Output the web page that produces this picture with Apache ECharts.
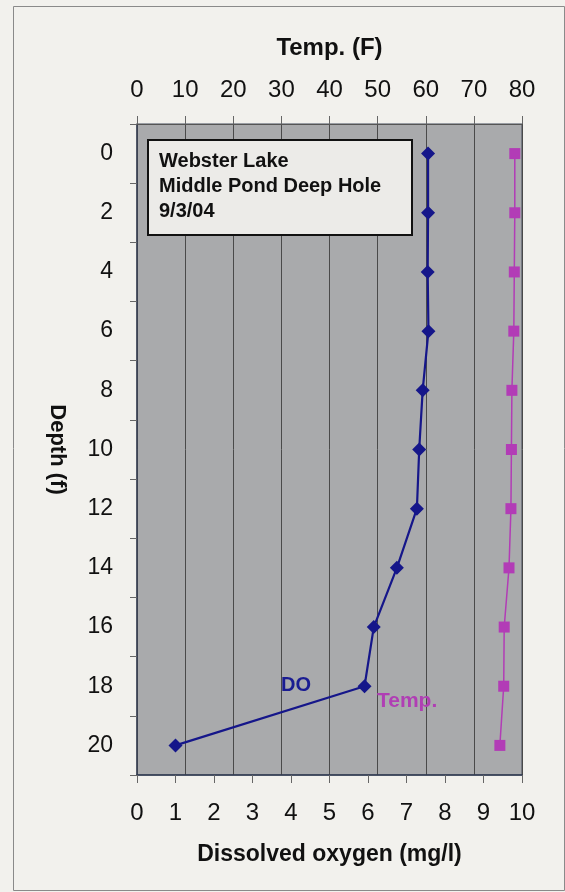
<!DOCTYPE html>
<html>
<head>
<meta charset="utf-8">
<script src="https://cdn.jsdelivr.net/npm/echarts@6/dist/echarts.min.js"></script>
<style>
html,body{margin:0;padding:0;background:#f2f1ed;}
#chart{width:565px;height:892px;}
</style>
</head>
<body>
<div id="chart"></div>
<script>
// Data
var depths = [0, 2, 4, 6, 8, 10, 12, 14, 16, 18, 20];
var dissolvedOxygen = [7.56, 7.56, 7.55, 7.57, 7.42, 7.33, 7.27, 6.75, 6.15, 5.91, 1.0];
var temperatureF = [78.5, 78.5, 78.4, 78.3, 77.9, 77.8, 77.7, 77.3, 76.3, 76.2, 75.4];
var depthLabels = [0, 2, 4, 6, 8, 10, 12, 14, 16, 18, 20];
var titleLines = ['Webster Lake', 'Middle Pond Deep Hole', '9/3/04'];

var FONT = '"Liberation Sans", Arial, sans-serif';

var chart = echarts.init(document.getElementById('chart'), null, {renderer: 'canvas'});

var option = {
  backgroundColor: '#f2f1ed',
  animation: false,
  grid: {
    left: 137, right: 43, top: 124, bottom: 117,
    show: true,
    backgroundColor: '#a9aaac',
    borderColor: '#434a5a',
    borderWidth: 1
  },
  xAxis: [
    {
      type: 'value', position: 'bottom', min: 0, max: 10, interval: 1,
      axisLine: {show: true, onZero: false, lineStyle: {color: '#2f3a52', width: 1.5}},
      axisTick: {show: true, inside: false, length: 8, lineStyle: {color: '#666'}},
      axisLabel: {fontSize: 24, color: '#111', margin: 26, fontFamily: FONT},
      splitLine: {show: false},
      name: 'Dissolved oxygen (mg/l)', nameLocation: 'middle', nameGap: 68,
      nameTextStyle: {fontSize: 23, fontWeight: 'bold', color: '#111', fontFamily: FONT}
    },
    {
      type: 'value', position: 'top', min: 0, max: 80, interval: 10,
      axisLine: {show: true, onZero: false, lineStyle: {color: '#555'}},
      axisTick: {show: true, inside: false, length: 8, lineStyle: {color: '#666'}},
      axisLabel: {fontSize: 24, color: '#111', margin: 22, fontFamily: FONT},
      splitLine: {show: true, lineStyle: {color: '#4a4a4a', width: 1}},
      name: 'Temp. (F)', nameLocation: 'middle', nameGap: 64,
      nameTextStyle: {fontSize: 24, fontWeight: 'bold', color: '#111', fontFamily: FONT}
    }
  ],
  yAxis: {
    type: 'value', inverse: true, min: -1, max: 21, interval: 2,
    axisLine: {show: true, onZero: false, lineStyle: {color: '#3a4256', width: 1.5}},
    axisTick: {show: true, inside: false, length: 7, lineStyle: {color: '#666'}},
    axisLabel: {fontSize: 23, color: '#111', margin: 24, fontFamily: FONT, customValues: depthLabels},
    splitLine: {show: false},
    name: 'Depth (f)', nameLocation: 'middle', nameRotate: -90, nameGap: 69,
    nameTextStyle: {fontSize: 22, fontWeight: 'bold', color: '#111', fontFamily: FONT}
  },
  series: [
    {
      name: 'DO', type: 'line', xAxisIndex: 0,
      data: depths.map(function (d, i) { return [dissolvedOxygen[i], d]; }),
      symbol: 'diamond', symbolSize: 14,
      lineStyle: {color: '#15168a', width: 2.2},
      itemStyle: {color: '#15168a'}
    },
    {
      name: 'Temp.', type: 'line', xAxisIndex: 1,
      data: depths.map(function (d, i) { return [temperatureF[i], d]; }),
      symbol: 'rect', symbolSize: 11,
      lineStyle: {color: '#b23cb6', width: 1.5},
      itemStyle: {color: '#b23cb6'}
    }
  ],
  graphic: [
    {
      type: 'rect', left: 11, top: 4, silent: true,
      shape: {width: 551, height: 884},
      style: {fill: 'none', stroke: '#8a8a8a', lineWidth: 1}
    },
    {
      type: 'rect', left: 147, top: 139, z: 10,
      shape: {width: 264, height: 95},
      style: {fill: '#ecebe8', stroke: '#111', lineWidth: 2}
    },
    {
      type: 'text', left: 159, top: 149, z: 11,
      style: {
        text: titleLines.join('\n'),
        font: 'bold 20px ' + FONT,
        lineHeight: 25,
        fill: '#111'
      }
    },
    {
      type: 'text', left: 281, top: 675, z: 11,
      style: {text: 'DO', font: 'bold 20px ' + FONT, fill: '#1a1c92'}
    },
    {
      type: 'text', left: 377, top: 691, z: 11,
      style: {text: 'Temp.', font: 'bold 21px ' + FONT, fill: '#b03eb4'}
    }
  ]
};
chart.setOption(option);
</script>
</body>
</html>
